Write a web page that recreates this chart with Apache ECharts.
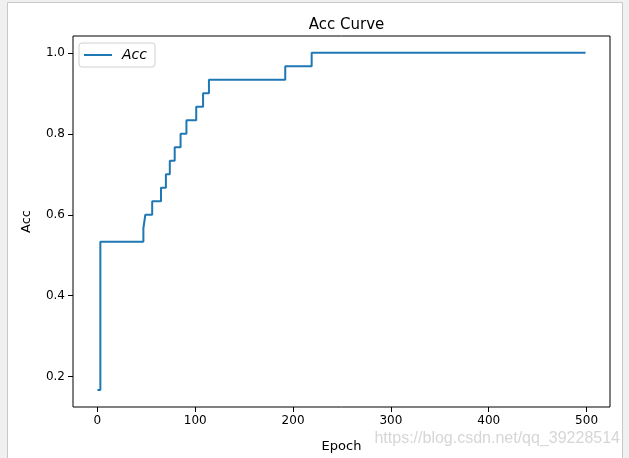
<!DOCTYPE html>
<html>
<head>
<meta charset="utf-8">
<script src="https://cdn.jsdelivr.net/npm/echarts@6/dist/echarts.min.js"></script>
<style>
html,body{margin:0;padding:0;background:#f0f0f0;}
#chart{width:629px;height:458px;}
</style>
</head>
<body>
<div id="chart"></div>
<script>
// Epochs at which the accuracy changes, and the accuracy from that epoch on
const changeEpochs = [0, 3, 47, 49, 56, 65, 70, 74, 79, 85, 91, 101, 108, 114, 192, 219, 499];
const accValues = [0.1667, 0.5333, 0.5667, 0.6, 0.6333, 0.6667, 0.7, 0.7333, 0.7667, 0.8, 0.8333, 0.8667, 0.9, 0.9333, 0.9667, 1.0, 1.0];
const xTicks = [0, 100, 200, 300, 400, 500];
const yTicks = [0.2, 0.4, 0.6, 0.8, 1.0];
const seriesName = 'Acc';

const chart = echarts.init(document.getElementById('chart'), null, {renderer: 'canvas'});
const font = 'DejaVu Sans';
const data = changeEpochs.map((e, i) => [e, accValues[i]]);

chart.setOption({
  animation: false,
  backgroundColor: '#f0f0f0',
  graphic: [
    {type: 'rect', z: -100, shape: {x: 7.5, y: 2.5, width: 615, height: 470},
     style: {fill: '#ffffff', stroke: '#c8c8c8', lineWidth: 1}},
    {type: 'text', z: 100, right: 9, top: 431,
     style: {text: 'https://blog.csdn.net/qq_39228514', fill: '#d6d6d6',
             font: '16px "Liberation Sans"'}}
  ],
  title: {
    text: 'Acc Curve',
    left: 341.5, top: 13, textAlign: 'center',
    textStyle: {fontFamily: font, fontSize: 15, fontWeight: 'normal', color: '#000'}
  },
  legend: {
    data: [seriesName],
    left: 79, top: 43,
    icon: 'rect', itemWidth: 28, itemHeight: 2,
    padding: [5, 8, 5, 5],
    borderColor: '#d0d0d0', borderWidth: 1, borderRadius: 3,
    backgroundColor: 'rgba(255,255,255,0.8)',
    textStyle: {fontFamily: font, fontSize: 14, fontStyle: 'italic', color: '#000', padding: [0, 0, 0, 5]}
  },
  grid: {
    left: 73, right: 19, top: 36, bottom: 49.5,
    show: true, borderColor: '#000', borderWidth: 1, backgroundColor: 'transparent'
  },
  xAxis: {
    type: 'value', min: -24.95, max: 523.95,
    name: 'Epoch', nameLocation: 'middle', nameGap: 33,
    nameTextStyle: {fontFamily: font, fontSize: 13, color: '#000'},
    axisLine: {show: false, onZero: false},
    axisTick: {show: true, length: 5, customValues: xTicks, lineStyle: {color: '#000'}},
    axisLabel: {customValues: xTicks, margin: 8, fontFamily: font, fontSize: 12, color: '#000'},
    splitLine: {show: false}
  },
  yAxis: {
    type: 'value', min: 0.125, max: 1.041667,
    name: 'Acc', nameLocation: 'middle', nameGap: 40, nameRotate: 90,
    nameTextStyle: {fontFamily: font, fontSize: 13, color: '#000'},
    axisLine: {show: false, onZero: false},
    axisTick: {show: true, length: 5, customValues: yTicks, lineStyle: {color: '#000'}},
    axisLabel: {customValues: yTicks, margin: 8, fontFamily: font, fontSize: 12, color: '#000',
                formatter: v => v.toFixed(1)},
    splitLine: {show: false}
  },
  series: [{
    name: seriesName,
    type: 'line',
    step: 'end',
    data: data,
    showSymbol: false,
    symbol: 'none',
    lineStyle: {color: '#1f77b4', width: 2},
    itemStyle: {color: '#1f77b4'}
  }]
});
</script>
</body>
</html>
